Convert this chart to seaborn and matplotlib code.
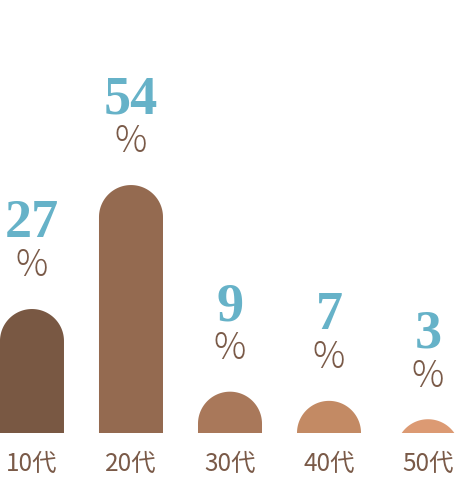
import matplotlib
matplotlib.use('Agg')
import numpy as np
import matplotlib.pyplot as plt
from matplotlib.patches import Polygon
import seaborn as sns

# データ
ages = ['10代', '20代', '30代', '40代', '50代']
values = [27, 54, 9, 7, 3]
colors = ['#795843', '#946a50', '#a9785a', '#c38a64', '#dc9a73']

sns.set_style('white')
plt.rcParams['font.family'] = ['Noto Sans CJK JP', 'DejaVu Sans']

fig = plt.figure(figsize=(4.6, 4.79), dpi=100)
ax = fig.add_axes([0, 46 / 479, 1, 433 / 479])

sns.barplot(x=ages, y=values, hue=ages, palette=colors, legend=False,
            width=0.6465, saturation=1, ax=ax)

ax.set_xlim(-0.323, 4.323)
ax.set_ylim(0, 94.3)

# y方向とx方向のデータ単位/ピクセル比
inv = ax.transData.inverted()
p0 = inv.transform((0, 0))
p1 = inv.transform((1, 1))
asp = (p1[1] - p0[1]) / (p1[0] - p0[0])

t = np.linspace(0, np.pi, 80)

# 棒の上端を半円にする
for bar in list(ax.patches):
    x = bar.get_x()
    w = bar.get_width()
    h = bar.get_height()
    c = bar.get_facecolor()
    bar.remove()
    xc = x + w / 2
    rx = w / 2
    ry = rx * asp
    yc = h - ry
    arc = np.column_stack([xc + rx * np.cos(t), yc + ry * np.sin(t)])
    verts = np.vstack([[[x + w, -50]], arc, [[x, -50]]])
    ax.add_patch(Polygon(verts, closed=True, facecolor=c, edgecolor='none',
                         clip_on=True))
    ax.annotate(str(int(round(h))), (xc, h), xytext=(0, 51.5),
                textcoords='offset points', ha='center', va='baseline',
                fontsize=39, fontweight='bold', color='#66b2c8',
                family=['Liberation Serif', 'DejaVu Serif'])
    ax.annotate('%', (xc, h), xytext=(0, 23.5),
                textcoords='offset points', ha='center', va='baseline',
                fontsize=26, fontweight='light', color='#7a5a48')

ax.set_xlabel('')
ax.set_ylabel('')
ax.set_yticks([])
ax.tick_params(axis='x', length=0, pad=13, labelsize=17.5, labelcolor='#7a5a48')
sns.despine(ax=ax, left=True, bottom=True)

fig.savefig('out.png', dpi=100, facecolor='white')
